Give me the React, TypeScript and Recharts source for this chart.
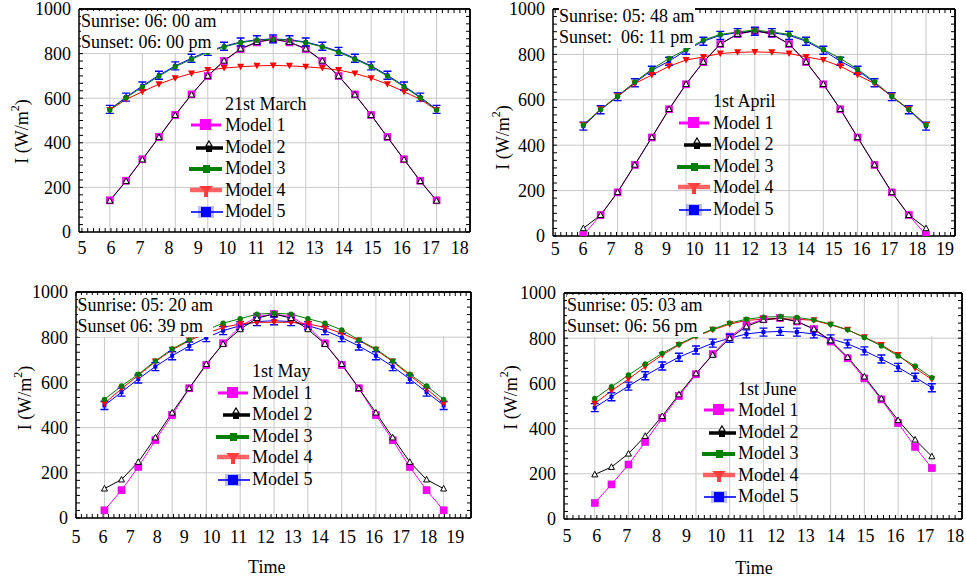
import React from 'react';
import {
  LineChart,
  Line,
  XAxis,
  YAxis,
  CartesianGrid,
  Legend,
  ReferenceArea,
  ReferenceLine
} from 'recharts';

const FONT = '"Liberation Serif", "Times New Roman", serif';

const MODEL_NAMES = ['Model 1', 'Model 2', 'Model 3', 'Model 4', 'Model 5'];
const MODEL_COLORS = ['#ff00ff', '#000000', '#008000', '#ff0000', '#0000ff'];
// paint order so the coinciding curves overlap the way they do in the figure
const DRAW_ORDER = [0, 4, 3, 1, 2];

const Y_TICKS = [0, 200, 400, 600, 800, 1000];

// 21st March
const marchTimes = [5.96, 6.52, 7.08, 7.65, 8.21, 8.77, 9.33, 9.89, 10.46, 11.02, 11.58, 12.14, 12.7, 13.27, 13.83, 14.39, 14.95, 15.51, 16.08, 16.64, 17.2];
const march1 = [142, 230, 326, 426, 525, 617, 699, 766, 820, 850, 864, 850, 820, 766, 699, 617, 525, 426, 326, 230, 142];
const march2 = [140, 228, 325, 425, 524, 616, 700, 768, 822, 852, 865, 852, 822, 768, 700, 616, 524, 425, 325, 228, 140];
const march3 = [547, 602, 651, 699, 741, 775, 806, 830, 849, 860, 864, 860, 849, 830, 806, 775, 741, 699, 651, 602, 547];
const march4 = [547, 595, 629, 663, 690, 711, 726, 735, 741, 745, 747, 745, 741, 735, 726, 711, 690, 663, 629, 595, 547];
const march5 = [550, 605, 655, 703, 745, 779, 810, 833, 852, 862, 866, 862, 852, 833, 810, 779, 745, 703, 655, 605, 550];

// 1st April
const aprilTimes = [6.01, 6.63, 7.24, 7.86, 8.47, 9.09, 9.7, 10.32, 10.93, 11.55, 12.17, 12.78, 13.4, 14.01, 14.63, 15.24, 15.86, 16.47, 17.09, 17.7, 18.32];
const april1 = [4, 92, 192, 313, 434, 558, 668, 766, 845, 889, 904, 889, 845, 766, 668, 558, 434, 313, 192, 92, 4];
const april2 = [34, 92, 193, 314, 435, 559, 669, 767, 846, 890, 905, 890, 846, 767, 669, 559, 435, 314, 193, 92, 34];
const april3 = [489, 558, 616, 679, 735, 782, 822, 863, 888, 899, 907, 899, 888, 863, 822, 782, 735, 679, 616, 558, 489];
const april4 = [489, 558, 616, 672, 709, 748, 775, 789, 804, 809, 811, 809, 804, 789, 775, 748, 709, 672, 616, 558, 489];
const april5 = [484, 556, 614, 675, 730, 770, 818, 858, 884, 896, 902, 896, 884, 858, 818, 770, 730, 675, 614, 556, 484];

// 1st May
const mayTimes = [6.05, 6.68, 7.3, 7.93, 8.55, 9.18, 9.81, 10.43, 11.06, 11.68, 12.31, 12.94, 13.56, 14.19, 14.81, 15.44, 16.07, 16.69, 17.32, 17.94, 18.57];
const may1 = [34, 123, 226, 344, 455, 574, 677, 773, 847, 891, 902, 891, 847, 773, 677, 574, 455, 344, 226, 123, 34];
const may2 = [130, 170, 248, 356, 466, 574, 681, 770, 835, 884, 903, 884, 835, 770, 681, 574, 466, 356, 248, 170, 130];
const may3 = [525, 584, 636, 695, 748, 788, 832, 862, 882, 902, 906, 902, 882, 862, 832, 788, 748, 695, 636, 584, 525];
const may4 = [507, 572, 631, 692, 744, 785, 817, 843, 859, 866, 866, 866, 859, 843, 817, 785, 744, 692, 631, 572, 507];
const may5 = [498, 557, 615, 670, 718, 761, 798, 829, 851, 869, 873, 869, 851, 829, 798, 761, 718, 670, 615, 557, 498];

// 1st June
const juneTimes = [5.93, 6.49, 7.06, 7.62, 8.19, 8.75, 9.32, 9.88, 10.45, 11.01, 11.58, 12.14, 12.7, 13.27, 13.83, 14.4, 14.96, 15.53, 16.09, 16.66, 17.22];
const june1 = [71, 153, 241, 341, 447, 544, 640, 730, 807, 859, 884, 889, 874, 840, 785, 711, 622, 529, 425, 319, 225];
const june2 = [197, 230, 289, 367, 455, 551, 644, 726, 800, 852, 881, 889, 874, 841, 790, 716, 630, 533, 437, 351, 277];
const june3 = [533, 585, 637, 686, 733, 773, 810, 840, 867, 884, 893, 896, 892, 881, 862, 837, 803, 766, 721, 677, 625];
const june4 = [511, 567, 619, 674, 726, 770, 807, 837, 862, 879, 884, 886, 884, 879, 859, 837, 804, 770, 726, 667, 618];
const june5 = [493, 541, 588, 634, 677, 716, 748, 778, 800, 819, 827, 830, 827, 819, 797, 775, 744, 708, 671, 627, 581];

// minor tick helper (axis decoration only)
function steps(start: number, stop: number, step: number) {
  const out: number[] = [];
  for (let v = start; v <= stop + 1e-9; v += step) out.push(Math.round(v * 1000) / 1000);
  return out;
}
const isMultiple = (v: number, m: number) => Math.abs(v / m - Math.round(v / m)) < 1e-4;

const PANELS = [
  {
    key: 'march',
    title: '21st March',
    sunrise: 'Sunrise: 06: 00 am',
    sunset: 'Sunset: 06: 00 pm',
    times: marchTimes,
    series: [march1, march2, march3, march4, march5],
    left: 0, top: 0, width: 483, height: 280,
    margin: { top: 9, right: 13, bottom: 18, left: 39 },
    xDomain: [4.9, 18.35],
    tickMargin: 3,
    note: { left: 81, top: 11 },
    legend: { left: 189, top: 93.5 },
    yLabel: { dx: -17.3, dy: 11 },
    time: null as null | number,
    blank: null as null | { x1: number; x2: number; y1: number; y2: number }
  },
  {
    key: 'april',
    title: '1st April',
    sunrise: 'Sunrise: 05: 48 am',
    sunset: 'Sunset:  06: 11 pm',
    times: aprilTimes,
    series: [april1, april2, april3, april4, april5],
    left: 483, top: 0, width: 483, height: 280,
    margin: { top: 9, right: 11, bottom: 14, left: 30 },
    xDomain: [4.92, 19.36],
    tickMargin: 0,
    note: { left: 76, top: 6 },
    legend: { left: 194, top: 91 },
    yLabel: { dx: -10.3, dy: 15 },
    time: null,
    blank: null
  },
  {
    key: 'may',
    title: '1st May',
    sunrise: 'Sunrise: 05: 20 am',
    sunset: 'Sunset 06: 39 pm',
    times: mayTimes,
    series: [may1, may2, may3, may4, may5],
    left: 0, top: 280, width: 483, height: 299,
    margin: { top: 12, right: 12, bottom: 1, left: 36 },
    xDomain: [5, 19.58],
    tickMargin: 6,
    note: { left: 77.5, top: 14.5 },
    legend: { left: 216, top: 81 },
    yLabel: { dx: -11, dy: -7 },
    time: -6.7,
    blank: { x1: 17.34, x2: 19.58, y1: 805, y2: 1000 }
  },
  {
    key: 'june',
    title: '1st June',
    sunrise: 'Sunrise: 05: 03 am',
    sunset: 'Sunset: 06: 56 pm',
    times: juneTimes,
    series: [june1, june2, june3, june4, june5],
    left: 483, top: 280, width: 483, height: 299,
    margin: { top: 13, right: 4, bottom: 0, left: 41 },
    xDomain: [4.9, 18.23],
    tickMargin: 4,
    note: { left: 84, top: 14.5 },
    legend: { left: 219, top: 98.5 },
    yLabel: { dx: -12.6, dy: -8.5 },
    time: -9,
    blank: { x1: 16.16, x2: 18.23, y1: 810, y2: 1000 }
  }
];

type Pt = { cx?: number; cy?: number; index?: number };

function Marker({ model, cx, cy }: { model: number; cx: number; cy: number }) {
  if (model === 0) {
    return <rect x={cx - 3.5} y={cy - 3.5} width={7} height={7} fill="#ff00ff" stroke="#d000d0" strokeWidth={0.6} />;
  }
  if (model === 1) {
    return (
      <path
        d={`M${cx},${cy - 3.2} L${cx + 3},${cy + 2.4} L${cx - 3},${cy + 2.4} Z`}
        fill="#fff"
        stroke="#000"
        strokeWidth={1}
      />
    );
  }
  if (model === 2) {
    return <circle cx={cx} cy={cy} r={2.7} fill="#008000" />;
  }
  if (model === 3) {
    return <path d={`M${cx - 3.5},${cy - 3} L${cx + 3.5},${cy - 3} L${cx},${cy + 3.5} Z`} fill="#ff0000" />;
  }
  return (
    <g>
      <path
        d={`M${cx - 4},${cy - 4} H${cx + 4} M${cx - 4},${cy + 4} H${cx + 4} M${cx},${cy - 4} V${cy + 4}`}
        stroke="#0000ff"
        strokeWidth={1.4}
        fill="none"
      />
      <rect x={cx - 2} y={cy - 2} width={4} height={4} fill="#0000ff" />
    </g>
  );
}

function LegendSymbol({ model }: { model: number }) {
  if (model === 0) {
    return (
      <g>
        <line x1={2} y1={10} x2={32} y2={10} stroke="#ff00ff" strokeWidth={3} />
        <rect x={11} y={4} width={11} height={11} fill="#ff00ff" />
      </g>
    );
  }
  if (model === 1) {
    return (
      <g>
        <line x1={7} y1={11} x2={34} y2={11} stroke="#000" strokeWidth={3.5} />
        <path d="M20,4 L23,9 L17,9 Z" fill="#fff" stroke="#000" strokeWidth={1.2} />
        <rect x={17} y={9} width={6} height={6} fill="#000" />
      </g>
    );
  }
  if (model === 2) {
    return (
      <g>
        <line x1={0} y1={11} x2={33} y2={11} stroke="#008000" strokeWidth={4} />
        <rect x={14} y={7} width={7} height={8} fill="#008000" />
      </g>
    );
  }
  if (model === 3) {
    return (
      <g opacity={0.75}>
        <line x1={1} y1={10} x2={33} y2={10} stroke="#ff3030" strokeWidth={4.5} />
        <path d="M10,6 L24,6 L19,11 L19,17 L15,17 L15,11 Z" fill="#ff0000" />
      </g>
    );
  }
  return (
    <g>
      <line x1={2} y1={11} x2={34} y2={11} stroke="#0000ff" strokeWidth={1.6} />
      <rect x={12} y={6} width={10} height={10} fill="#0000ff" />
      <rect x={9} y={5} width={16} height={12} fill="#0000ff" opacity={0.25} />
    </g>
  );
}

function LegendBlock({ title }: { title: string }) {
  return (
    <div style={{ fontFamily: FONT, fontSize: 18, lineHeight: '21.5px', color: '#000', textAlign: 'left', whiteSpace: 'nowrap' }}>
      <div style={{ paddingLeft: 36, height: 21.5 }}>{title}</div>
      {MODEL_NAMES.map((name, i) => (
        <div key={name} style={{ display: 'flex', alignItems: 'center', height: 21.5 }}>
          <svg width={34} height={21} style={{ marginRight: 2, display: 'block' }}>
            <LegendSymbol model={i} />
          </svg>
          <span>{name}</span>
        </div>
      ))}
    </div>
  );
}

const renderYLabel = (dx: number, dy: number) => (props: any) => {
  const vb = props.viewBox || { x: 0, y: 0, width: 0, height: 0 };
  const cx = vb.x + dx;
  const cy = vb.y + vb.height / 2 + dy;
  return (
    <text
      x={cx}
      y={cy}
      transform={`rotate(-90 ${cx} ${cy})`}
      textAnchor="middle"
      dominantBaseline="central"
      fontFamily={FONT}
      fontSize={18}
      fill="#000"
    >
      I (W/m<tspan dy={-7} fontSize={12}>2</tspan><tspan dy={7}>)</tspan>
    </text>
  );
};

const renderTimeLabel = (dx: number) => (props: any) => {
  const vb = props.viewBox || { x: 0, y: 0, width: 0, height: 0 };
  const cx = vb.x + vb.width / 2 + dx;
  const cy = vb.y + 49.3;
  return (
    <text x={cx} y={cy} textAnchor="middle" dominantBaseline="central" fontFamily={FONT} fontSize={18} fill="#000">
      Time
    </text>
  );
};

const tickFont = { fontSize: 18, fontFamily: FONT, fill: '#000' };
const noLabel = { fontSize: 1, fill: 'none' };
const blank = () => '';
const frame = { stroke: '#000', strokeWidth: 1.5 };
const minorLine = { stroke: '#000', strokeWidth: 1 };

function Panel({ p }: { p: (typeof PANELS)[number] }) {
  const rows = p.times.map((t, i) => ({
    t,
    m0: p.series[0][i],
    m1: p.series[1][i],
    m2: p.series[2][i],
    m3: p.series[3][i],
    m4: p.series[4][i]
  }));
  // integer hours get a label, the rest are minor ticks drawn inward
  const xTicks = steps(5, p.xDomain[1] - 0.05, 0.2);
  const yTicks = steps(0, 1000, 200 / 6);
  const gridX = p.times.filter((_, i) => i % 2 === 0);
  const xMax = p.xDomain[1];

  return (
    <div style={{ position: 'absolute', left: p.left, top: p.top, width: p.width, height: p.height }}>
      <LineChart width={p.width} height={p.height} data={rows} margin={p.margin}>
        <CartesianGrid
          verticalValues={gridX}
          horizontalValues={Y_TICKS}
          stroke="#c8c8c8"
          strokeWidth={1}
        />
        {p.blank && (
          <ReferenceArea
            x1={p.blank.x1}
            x2={p.blank.x2}
            y1={p.blank.y1}
            y2={p.blank.y2}
            fill="#fff"
            fillOpacity={1}
            stroke="none"
            ifOverflow="hidden"
          />
        )}

        <XAxis
          dataKey="t"
          type="number"
          domain={p.xDomain}
          allowDataOverflow
          ticks={xTicks}
          interval={0}
          tick={tickFont}
          tickFormatter={(v: number) => (isMultiple(v, 1) ? String(Math.round(v)) : '')}
          tickLine={minorLine}
          tickSize={-4}
          tickMargin={p.tickMargin + 10}
          axisLine={frame}
          height={p.time !== null ? 60 : 30}
          label={p.time !== null ? renderTimeLabel(p.time) : undefined}
        />
        <XAxis
          xAxisId="top"
          orientation="top"
          dataKey="t"
          type="number"
          domain={p.xDomain}
          allowDataOverflow
          ticks={xTicks}
          interval={0}
          mirror
          height={1}
          tick={noLabel}
          tickFormatter={blank}
          axisLine={frame}
          tickLine={minorLine}
          tickSize={4}
        />

        <YAxis
          type="number"
          domain={[0, 1000]}
          allowDataOverflow
          ticks={yTicks}
          interval={0}
          width={40}
          tick={tickFont}
          tickFormatter={(v: number) => (isMultiple(v, 200) ? String(Math.round(v)) : '')}
          tickLine={minorLine}
          tickSize={-4}
          tickMargin={12}
          axisLine={frame}
          label={renderYLabel(p.yLabel.dx, p.yLabel.dy)}
        />
        <YAxis
          yAxisId="right"
          orientation="right"
          type="number"
          domain={[0, 1000]}
          allowDataOverflow
          ticks={yTicks}
          interval={0}
          mirror
          width={1}
          tick={noLabel}
          tickFormatter={blank}
          axisLine={frame}
          tickLine={minorLine}
          tickSize={4}
        />

        <ReferenceLine y={1000} stroke="#000" strokeWidth={1.5} />
        <ReferenceLine x={xMax} stroke="#000" strokeWidth={1.5} />

        {DRAW_ORDER.map(m => (
          <Line
            key={m}
            dataKey={`m${m}`}
            name={MODEL_NAMES[m]}
            type="linear"
            stroke={MODEL_COLORS[m]}
            strokeWidth={1}
            dot={(d: Pt) => <Marker key={`${m}-${d.index}`} model={m} cx={d.cx ?? 0} cy={d.cy ?? 0} />}
            activeDot={false}
            isAnimationActive={false}
          />
        ))}

        <Legend
          layout="vertical"
          align="center"
          verticalAlign="middle"
          wrapperStyle={{ left: p.legend.left, top: p.legend.top, width: 'auto' }}
          content={() => <LegendBlock title={p.title} />}
        />
      </LineChart>

      <div
        style={{
          position: 'absolute',
          left: p.note.left,
          top: p.note.top,
          background: '#fff',
          fontFamily: FONT,
          fontSize: 18,
          lineHeight: '21px',
          color: '#000',
          whiteSpace: 'pre'
        }}
      >
        <div>{p.sunrise}</div>
        <div>{p.sunset}</div>
      </div>
    </div>
  );
}

export default function App() {
  return (
    <div style={{ position: 'absolute', left: 0, top: 0, width: 966, height: 579, background: '#fff' }}>
      {PANELS.map(p => (
        <Panel key={p.key} p={p} />
      ))}
    </div>
  );
}
